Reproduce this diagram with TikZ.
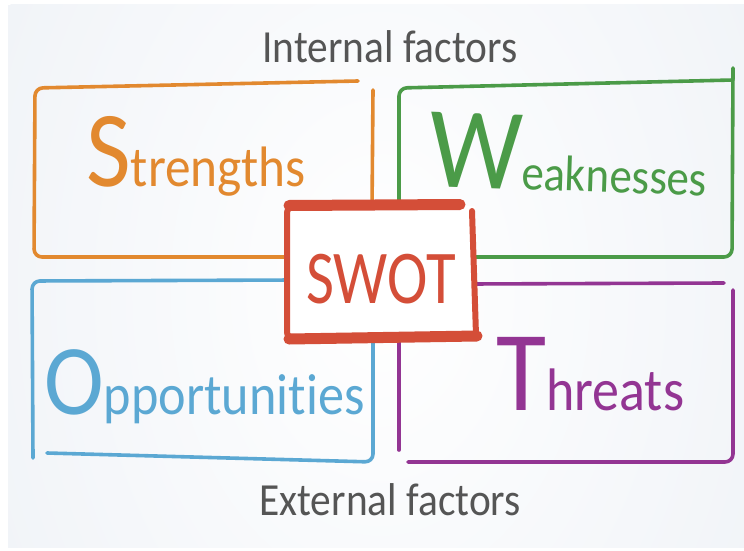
\documentclass[tikz,border=0pt]{standalone}
\usepackage{fontspec}
\newfontfamily\hand[FakeStretch=0.9, Ligatures=NoCommon]{Carlito}
\newfontfamily\handn[FakeStretch=0.8, Ligatures=NoCommon]{Carlito}
\definecolor{bgc}{HTML}{F1F4F8}
\definecolor{cor}{HTML}{E2892F}
\definecolor{cgr}{HTML}{4B9B48}
\definecolor{cbl}{HTML}{5BA8D3}
\definecolor{cpu}{HTML}{933593}
\definecolor{cre}{HTML}{D44E38}
\definecolor{cgy}{HTML}{555555}
\newcommand{\fsz}[2]{{\fontsize{#1}{#1}\selectfont #2}}
\begin{document}
\begin{tikzpicture}[x=1pt,y=-1pt,
  boxline/.style={line width=3.6pt, line cap=round, line join=round, rounded corners=8pt},
  swotline/.style={cre, line cap=round, line join=round},
  lbl/.style={inner sep=0pt, anchor=base west, font=\hand},
  factor/.style={inner sep=0pt, anchor=base, font=\hand\fontsize{46}{46}\selectfont, text=cgy}]
\useasboundingbox (0,0) rectangle (744,551);
\fill[white] (0,0) rectangle (744,551);
\fill[bgc] (8,5) rectangle (744,547);
\begin{scope}
\clip (8,5) rectangle (744,547);
\shade[inner color=white, outer color=bgc] (380,290) ellipse (420 and 600);
\end{scope}

% titles
\node[factor] (intf) at (390,63) {Internal factors};
\node[factor] (extf) at (390,515) {External factors};

% Strengths (orange)
\draw[boxline, cor] (358,81) -- (35,88) -- (34,257) -- (295,257);
\draw[boxline, cor] (373,90) -- (372,210);
\node[lbl, text=cor] (str) at (86,186) {\fsz{108}{S}\fsz{57}{trengths}};

% Weaknesses (green)
\draw[boxline, cgr] (399,230) -- (399,88) -- (733,80);
\draw[boxline, cgr] (733,68) -- (732,257) -- (470,257);
\node[lbl, text=cgr, rotate=-2] (weak) at (428,186) {\fsz{116}{W}\fsz{50}{eaknesses}};

% Opportunities (blue)
\draw[boxline, cbl] (295,280) -- (32,281) -- (33,458);
\draw[boxline, cbl] (47,453) -- (373,462) -- (373,330);
\node[lbl, text=cbl] (opp) at (44,414) {\fsz{100}{O}\fsz{58}{pportunities}};

% Threats (purple)
\draw[boxline, cpu] (470,284) -- (724,283);
\draw[boxline, cpu] (733,290) -- (733,462) -- (408,462);
\draw[boxline, cpu] (399,330) -- (399,450);
\node[lbl, text=cpu] (thr) at (496,410) {\fsz{114}{T}\fsz{60}{hreats}};

% SWOT box (red)
\fill[white] (287,206) rectangle (475,337);
\draw[swotline, line width=6pt, rounded corners=6pt] (300,206) -- (287,207) -- (287,338) -- (300,338);
\draw[swotline, line width=11pt] (289,205.5) -- (460,204.5);
\draw[swotline, line width=11pt] (289,339) -- (477,336);
\draw[swotline, line width=6pt] (472,211) -- (476,335);
\node[inner sep=0pt, anchor=base, font=\handn\fontsize{76}{76}\selectfont, text=cre] (swot) at (381,303) {SWOT};
\end{tikzpicture}
\end{document}
